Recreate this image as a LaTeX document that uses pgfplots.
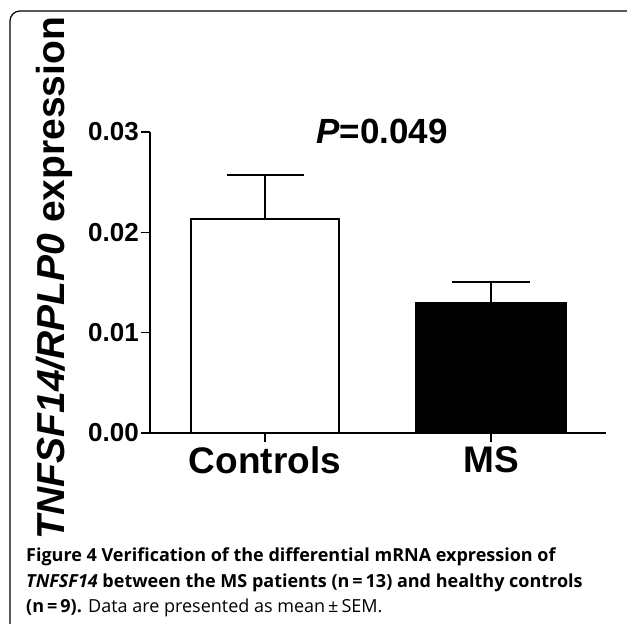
\documentclass[border=0pt]{standalone}
\usepackage{pgfplots}
\pgfplotsset{compat=1.18}
\usepackage{fontspec}
\setmainfont{Liberation Sans}
\newfontfamily\capfont{Open Sans}
\begin{document}
\begin{tikzpicture}
\useasboundingbox (0pt,0pt) rectangle (627pt,624pt);
% frame round the figure, cut by the page edges
\draw[line width=1.2pt, rounded corners=10pt] (10pt,-30pt) -- (10pt,613pt) -- (645pt,613pt) -- (645pt,-30pt);
\begin{axis}[
    at={(150pt,191pt)}, anchor=south west,
    scale only axis, width=456pt, height=301pt,
    xmin=-0.509, xmax=1.509, ymin=0, ymax=0.03,
    axis lines=left, axis line style={-, line width=1.6pt},
    tick align=outside, major tick length=9pt,
    tick style={line width=1.6pt, black},
    xtick={0,1}, xticklabels={Controls,MS},
    ytick={0,0.01,0.02,0.03}, yticklabels={0.00,0.01,0.02,0.03},
    scaled y ticks=false,
    xticklabel style={font=\fontsize{37}{40}\selectfont\bfseries, inner sep=4pt},
    yticklabel style={font=\fontsize{26}{28}\selectfont\bfseries, inner sep=2pt},
    /pgf/number format/assume math mode=true,
    clip=false,
    ybar, bar shift=0pt,
]
\addplot[ybar, bar width=0.655, fill=white, draw=black, line width=1.8pt,
    error bars/.cd, y dir=plus, y explicit,
    error bar style={line width=1.8pt},
    error mark options={rotate=90, mark size=38.5pt, line width=1.8pt}]
    coordinates {(0,0.02133) +- (0,0.00438)};
\addplot[ybar, bar width=0.668, fill=black, draw=black, line width=1.8pt,
    error bars/.cd, y dir=plus, y explicit,
    error bar style={line width=1.8pt},
    error mark options={rotate=90, mark size=39pt, line width=1.8pt}]
    coordinates {(1,0.01296) +- (0,0.00209)};
\end{axis}
\node[anchor=base, font=\fontsize{35}{38}\selectfont\bfseries] at (382pt,480pt) {\textit{P}=0.049};
\node[anchor=base, rotate=90, font=\fontsize{39}{42}\selectfont\bfseries] at (64pt,346pt)
    {\textit{TNFSF14/RPLP0} expression};
\node[anchor=base west, align=left, inner sep=0pt, font=\capfont\fontsize{18}{25.5}\selectfont] at (26pt,11pt)
    {\textbf{Figure 4 Verification of the differential mRNA expression of}\\
     \textbf{\textit{TNFSF14} between the MS patients (n\,=\,13) and healthy controls}\\
     \textbf{(n\,=\,9).} Data are presented as mean\,±\,SEM.};
\end{tikzpicture}
\end{document}
